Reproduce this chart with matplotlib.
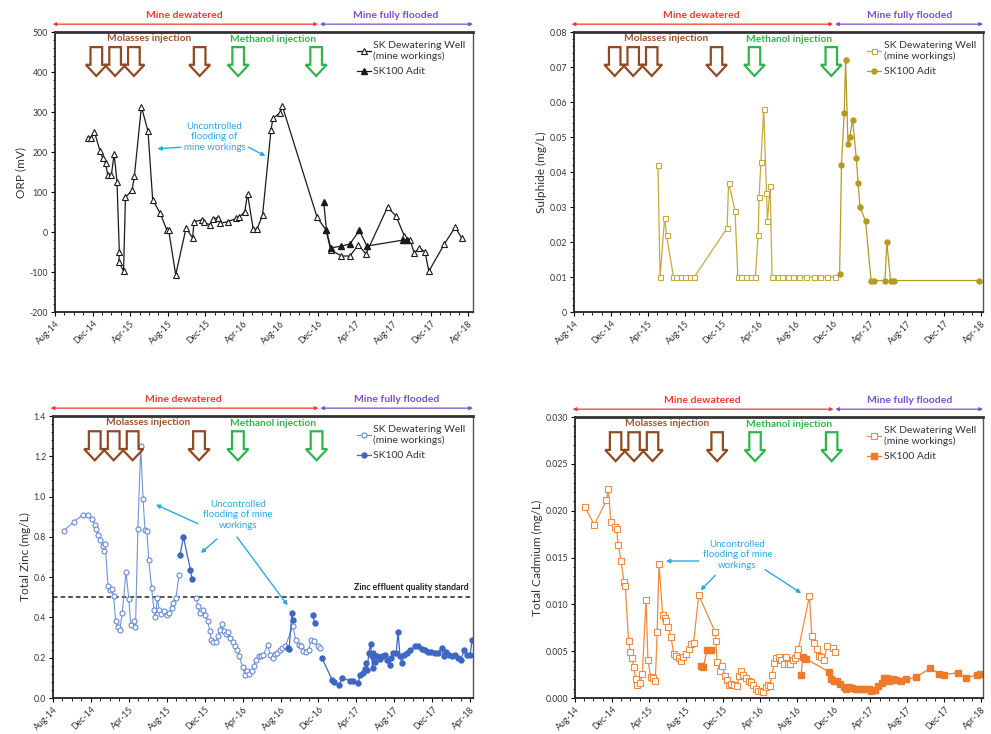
import numpy as np
import matplotlib
matplotlib.use("Agg")
import matplotlib.pyplot as plt
from matplotlib.transforms import blended_transform_factory
from matplotlib.patches import Polygon

plt.rcParams['font.family'] = ['Lato', 'DejaVu Sans']

# ---------------- x axis (months since 1 Aug 2014) ----------------
tick_labels = ['Aug-14', 'Dec-14', 'Apr-15', 'Aug-15', 'Dec-15', 'Apr-16', 'Aug-16',
               'Dec-16', 'Apr-17', 'Aug-17', 'Dec-17', 'Apr-18']
tick_months = [0, 4, 8, 12, 16, 20, 24, 28, 32, 36, 40, 44]
molasses_months = [4.4, 6.4, 8.4, 15.4]
methanol_months = [19.5, 27.8]
flooded_start = 28.0

# ---------------- ORP ----------------
orp_well_m = [3.55, 3.8, 4.2, 4.8, 5.1, 5.4, 5.6, 6.0, 6.3, 6.6, 6.85, 6.8, 7.3, 7.5, 8.2, 8.45,
              9.2, 9.9, 10.4, 11.2, 11.9, 12.1, 12.85, 13.95, 14.65, 14.8, 15.6, 15.9, 16.5,
              16.8, 17.4, 17.6, 18.4, 19.3, 19.6, 20.2, 20.5, 21.1, 21.5, 22.1, 23.0, 23.2,
              23.95, 24.2, 27.9, 28.85, 29.35, 30.5, 31.4, 32.3, 33.1, 35.4, 36.3, 37.2, 37.8,
              38.25, 38.8, 39.4, 39.8, 41.45, 42.6, 43.3]
orp_well_v = [236, 236, 250, 202, 184, 172, 143, 143, 195, 126, -51, -74, -98, 87, 104, 140,
              313, 252, 80, 47, 5, 5, -107, 10, -15, 26, 30, 24, 18, 33, 36, 22, 26, 34, 37,
              51, 95, 7, 7, 43, 256, 284, 298, 315, 37, 5, -45, -60, -60, -32, -55, 62, 40,
              -10, -20, -53, -39, -51, -98, -30, 12, -15]
orp_adit_m = [28.6, 28.9, 29.35, 30.5, 31.4, 32.4, 33.2, 37.1, 37.45]
orp_adit_v = [76, 5, -40, -35, -30, 4, -35, -20, -20]

# ---------------- Sulphide ----------------
sul_well_m = [9.07, 9.3, 9.8, 10.0, 10.75, 11.0, 11.6, 12.0, 12.5, 13.0, 16.55, 16.7, 17.4,
              17.7, 18.0, 18.55, 19.1, 19.6, 19.9, 20.0, 20.2, 20.5, 20.8, 20.9, 21.2, 21.4,
              22.0, 22.5, 23.1, 23.7, 24.3, 25.1, 25.9, 26.6, 27.3, 28.2]
sul_well_v = [0.042, 0.010, 0.027, 0.022, 0.010, 0.010, 0.010, 0.010, 0.010, 0.010, 0.024,
              0.037, 0.029, 0.010, 0.010, 0.010, 0.010, 0.010, 0.022, 0.033, 0.043, 0.058,
              0.034, 0.026, 0.036, 0.010, 0.010, 0.010, 0.010, 0.010, 0.010, 0.010, 0.010,
              0.010, 0.010, 0.010]
sul_adit_m = [28.7, 28.9, 29.2, 29.35, 29.6, 29.8, 30.1, 30.5, 30.7, 30.9, 31.5, 32.1, 32.45,
              33.6, 33.8, 34.2, 34.6, 43.8]
sul_adit_v = [0.011, 0.042, 0.057, 0.072, 0.048, 0.050, 0.055, 0.044, 0.037, 0.030, 0.026,
              0.009, 0.009, 0.009, 0.020, 0.009, 0.009, 0.009]

# ---------------- Zinc ----------------
zn_well_m = [1.13, 2.2, 3.2, 3.7, 4.1, 4.4, 4.55, 4.75, 5.0, 5.25, 5.4, 5.5, 5.8, 6.0, 6.2,
             6.4, 6.6, 6.85, 7.05, 7.3, 7.7, 8.0, 8.2, 8.5, 8.7, 8.95, 9.25, 9.5, 9.7, 9.9,
             10.1, 10.4, 10.65, 10.8, 11.0, 11.2, 11.4, 11.7, 12.0, 12.25, 12.5, 12.65, 12.95,
             13.3, 14.2, 15.1, 15.3, 15.5, 15.8, 16.0, 16.3, 16.55, 16.7, 16.9, 17.2, 17.4,
             17.6, 17.8, 18.0, 18.2, 18.5, 18.7, 18.95, 19.2, 19.4, 19.65, 20.0, 20.25, 20.45,
             20.7, 20.95, 21.2, 21.4, 21.7, 21.95, 22.2, 22.65, 22.9, 23.2, 23.4, 23.6, 23.9,
             24.2, 24.5, 25.3, 25.6, 25.9, 26.2, 26.4, 26.7, 26.95, 27.2, 27.5, 27.9, 28.2]
zn_well_v = [0.83, 0.876, 0.91, 0.91, 0.888, 0.86, 0.84, 0.81, 0.785, 0.757, 0.73, 0.765,
             0.557, 0.534, 0.54, 0.507, 0.38, 0.355, 0.34, 0.42, 0.625, 0.49, 0.364, 0.38,
             0.352, 0.838, 1.25, 0.987, 0.835, 0.83, 0.686, 0.545, 0.438, 0.40, 0.496, 0.438,
             0.416, 0.43, 0.41, 0.42, 0.446, 0.474, 0.496, 0.61, None, 0.496, 0.455, 0.42,
             0.438, 0.413, 0.38, 0.335, 0.286, 0.28, 0.28, 0.306, 0.339, 0.367, 0.335, 0.319,
             0.33, 0.297, 0.28, 0.26, 0.24, 0.207, 0.152, 0.116, 0.132, 0.119, 0.136, 0.16,
             0.19, 0.207, 0.21, 0.215, 0.264, 0.215, 0.20, 0.22, 0.226, 0.236, 0.248, 0.256,
             0.359, 0.286, 0.264, 0.256, 0.235, 0.231, 0.236, 0.286, 0.284, 0.256, 0.248]
zn_adit_m = [13.4, 13.75, 14.5, 14.65, 19.0, 24.75, 24.9, 25.2, 25.3, 26.5, 27.4, 27.6, 28.0,
             28.35, 29.45, 29.6, 30.2, 30.5, 31.3, 31.6, 32.2, 32.35, 32.7, 32.9, 33.05, 33.15,
             33.3, 33.5, 33.6, 33.7, 33.8, 34.0, 34.2, 34.45, 34.7, 35.0, 35.2, 35.5, 35.7,
             35.9, 36.2, 36.4, 36.6, 36.8, 37.0, 37.35, 37.7, 38.2, 38.5, 38.9, 39.2, 39.6,
             39.9, 40.3, 40.6, 41.0, 41.2, 41.5, 41.8, 42.1, 42.4, 42.75, 43.0, 43.4, 43.7,
             44.0, 44.2]
zn_adit_v = [0.71, 0.80, 0.636, 0.59, None, 0.248, 0.243, 0.42, 0.388, None, 0.413, 0.372,
             None, 0.20, 0.09, 0.08, 0.066, 0.10, 0.086, 0.083, 0.074, 0.116, 0.124, 0.144,
             0.174, 0.14, 0.223, 0.268, 0.207, 0.149, 0.223, 0.18, 0.207, 0.193, 0.207, 0.215,
             0.19, 0.165, 0.198, 0.223, 0.223, 0.33, 0.207, 0.174, 0.215, 0.226, 0.24, 0.256,
             0.256, 0.243, 0.24, 0.23, 0.23, 0.226, 0.223, 0.248, 0.207, 0.23, 0.215, 0.207,
             0.215, 0.198, 0.19, 0.24, 0.215, 0.215, 0.289]
zn_standard = 0.5

# ---------------- Cadmium ----------------
cd_well_m = [1.07, 2.1, 3.4, 3.6, 3.9, 4.3, 4.5, 4.7, 5.0, 5.3, 5.45, 5.8, 6.0, 6.2, 6.35,
             6.6, 6.75, 7.05, 7.3, 7.7, 7.9, 8.2, 8.4, 8.7, 8.9, 9.1, 9.5, 9.7, 9.9, 10.1,
             10.4, 10.7, 10.95, 11.25, 11.5, 11.75, 12.0, 12.3, 12.55, 12.85, 13.4, 15.2,
             15.25, 15.4, 15.7, 15.95, 16.2, 16.5, 16.65, 16.95, 17.25, 17.55, 17.8, 18.0,
             18.25, 18.5, 18.8, 19.1, 19.3, 19.6, 19.85, 20.1, 20.4, 20.65, 20.9, 21.1, 21.3,
             21.6, 21.8, 22.1, 22.3, 22.6, 22.9, 23.05, 23.3, 23.6, 23.85, 24.0, 24.2, 25.4,
             25.65, 25.9, 26.2, 26.45, 26.7, 27.0, 27.3, 27.9, 28.2]
cd_well_v = [0.0204, 0.0185, 0.0211, 0.0223, 0.0188, 0.0183, 0.0180, 0.0163, 0.0146, 0.0124,
             0.0120, 0.0061, 0.0049, 0.0043, 0.0033, 0.0020, 0.0014, 0.0016, 0.0026, 0.0105,
             0.0041, 0.0022, 0.0021, 0.0018, 0.0070, 0.0143, 0.0089, 0.0085, 0.0082, 0.0076,
             0.0065, 0.0047, 0.0045, 0.0043, 0.0040, 0.0044, 0.0047, 0.0052, 0.0058, 0.0059,
             0.0110, 0.0070, 0.0061, 0.0038, 0.0029, 0.0034, 0.0024, 0.0019, 0.0014, 0.0015,
             0.0014, 0.0013, 0.0023, 0.0029, 0.0025, 0.0021, 0.0018, 0.0017, 0.0014, 0.0010,
             0.0008, 0.0007, 0.0006, 0.0012, 0.0014, 0.0013, 0.0025, 0.0037, 0.0043, 0.0044,
             0.0041, 0.0036, 0.0044, 0.0036, 0.0036, 0.0041, 0.0043, 0.0046, 0.0052, 0.0109,
             0.0066, 0.0059, 0.0052, 0.0045, 0.0044, 0.0041, 0.0056, 0.0053, 0.0049]
cd_adit_m = [13.6, 13.9, 14.3, 14.7, 19.0, 24.5, 24.65, 25.0, 27.5, 27.7, 28.05, 28.4, 28.75,
             29.1, 29.4, 29.65, 30.0, 30.4, 30.7, 31.05, 31.4, 31.8, 32.1, 32.5, 32.85, 33.2,
             33.5, 33.75, 34.0, 34.4, 34.8, 35.3, 35.9, 36.9, 38.5, 39.4, 39.95, 41.5, 42.3,
             43.5, 43.9]
cd_adit_v = [0.0034, 0.0033, 0.0051, 0.0051, None, 0.0025, 0.0044, 0.0042, 0.0028, 0.0020,
             0.0018, 0.0018, 0.0015, 0.0012, 0.0010, 0.0012, 0.0011, 0.0010, 0.0010, 0.0010,
             0.0010, 0.0010, 0.0008, 0.0009, 0.0013, 0.0016, 0.0021, 0.0021, 0.0018, 0.0020,
             0.0019, 0.0018, 0.0020, 0.0022, 0.0032, 0.0026, 0.0025, 0.0027, 0.0021, 0.0025,
             0.0026]


def arr(v):
    return np.array([np.nan if x is None else x for x in v], dtype=float)


RED = '#F23A2E'
PURPLE = '#7A4FC9'
BROWN = '#8E4A22'
GREEN = '#2FB44A'
FLOOD = '#2AAAE2'
FS = 6.3

fig = plt.figure(figsize=(9.91, 7.34), dpi=100)
fig.patch.set_facecolor('white')

ax1 = fig.add_axes([0.0555, 0.5749, 0.4218, 0.3815])
ax2 = fig.add_axes([0.5792, 0.5749, 0.4128, 0.3815])
ax3 = fig.add_axes([0.0535, 0.0490, 0.4238, 0.3842])
ax4 = fig.add_axes([0.5802, 0.0490, 0.4118, 0.3828])


def common(ax, xmax, ylim, yticks, yfmt, ylabel):
    ax.set_xlim(0, xmax)
    ax.set_ylim(*ylim)
    ax.set_xticks(tick_months)
    ax.set_xticklabels(tick_labels, rotation=45, ha='right', rotation_mode='anchor',
                       fontsize=FS, color='#333333')
    ax.set_xticks(np.arange(0, xmax, 1), minor=True)
    ax.set_yticks(yticks)
    ax.set_yticklabels([yfmt(t) for t in yticks], fontsize=FS, color='#333333')
    ax.yaxis.set_minor_locator(matplotlib.ticker.AutoMinorLocator(5))
    ax.tick_params(which='major', length=3, width=0.8, direction='out', pad=2)
    ax.tick_params(which='minor', length=1.8, width=0.6, direction='out')
    for s in ['left', 'bottom']:
        ax.spines[s].set_color('#222222')
        ax.spines[s].set_linewidth(1.3)
    ax.spines['top'].set_color('#333333')
    ax.spines['top'].set_linewidth(2.0)
    ax.spines['right'].set_color('#555555')
    ax.spines['right'].set_linewidth(1.0)
    ax.set_ylabel(ylabel, fontsize=8.6, color='#333333', labelpad=2)

    tr = blended_transform_factory(ax.transData, ax.transAxes)
    # phases
    ax.annotate('', xy=(flooded_start, 1.028), xytext=(-0.25, 1.028), xycoords=tr,
                textcoords=tr, annotation_clip=False,
                arrowprops=dict(arrowstyle='<|-|>', color=RED, lw=0.9, mutation_scale=5,
                                shrinkA=0, shrinkB=0))
    ax.annotate('', xy=(xmax, 1.028), xytext=(flooded_start + 0.2, 1.028), xycoords=tr,
                textcoords=tr, annotation_clip=False,
                arrowprops=dict(arrowstyle='<|-|>', color=PURPLE, lw=0.9, mutation_scale=5,
                                shrinkA=0, shrinkB=0))
    ax.text(13.8, 1.06, 'Mine dewatered', transform=tr, ha='center', va='center',
            fontsize=7.5, color=RED, fontweight='bold', clip_on=False)
    ax.text(36.3, 1.06, 'Mine fully flooded', transform=tr, ha='center', va='center',
            fontsize=7.5, color=PURPLE, fontweight='bold', clip_on=False)
    # injections
    ax.text(10.0, 0.978, 'Molasses injection', transform=tr, ha='center', va='center',
            fontsize=7.3, color='#9A5430', fontweight='bold')
    ax.text(23.2, 0.975, 'Methanol injection', transform=tr, ha='center', va='center',
            fontsize=7.3, color=GREEN, fontweight='bold')
    sw, hw, yt, yh, yb = 0.62, 1.12, 0.946, 0.883, 0.843
    for months, col in [(molasses_months, BROWN), (methanol_months, GREEN)]:
        for c in months:
            pts = [(c - sw, yt), (c + sw, yt), (c + sw, yh), (c + hw, yh), (c, yb),
                   (c - hw, yh), (c - sw, yh)]
            ax.add_patch(Polygon(pts, closed=True, transform=tr, facecolor='white',
                                 edgecolor=col, lw=1.6, joinstyle='miter', zorder=5))
    return tr


def legend(ax, h1, h2, anchor):
    lg = ax.legend([h1, h2], ['SK Dewatering Well\n(mine workings)', 'SK100 Adit'],
                   loc='upper right', bbox_to_anchor=anchor, frameon=False,
                   fontsize=7.5, handlelength=1.4, handletextpad=0.2,
                   labelspacing=0.6, borderaxespad=0.3)
    for t in lg.get_texts():
        t.set_color('#333333')


def flood_note(ax, xy_text, label, arrows):
    ax.text(xy_text[0], xy_text[1], label, ha='center', va='center', fontsize=7.0,
            color=FLOOD, linespacing=1.2)
    for (x0, y0), (x1, y1) in arrows:
        ax.annotate('', xy=(x1, y1), xytext=(x0, y0),
                    arrowprops=dict(arrowstyle='-|>', color=FLOOD, lw=1.0,
                                    mutation_scale=6, shrinkA=0, shrinkB=0))


# ---- Panel 1: ORP ----
common(ax1, 44.5, (-200, 500), list(range(-200, 501, 100)), lambda t: f'{t:d}', 'ORP (mV)')
h1, = ax1.plot(orp_well_m, arr(orp_well_v), color='#1a1a1a', lw=0.9, marker='^', ms=4.6,
               mfc='white', mec='#1a1a1a', mew=0.8)
h2, = ax1.plot(orp_adit_m, arr(orp_adit_v), color='#1a1a1a', lw=0.9, marker='^', ms=4.6,
               mfc='#1a1a1a', mec='#1a1a1a')
legend(ax1, h1, h2, (1.0, 0.995))
flood_note(ax1, (17.0, 238), 'Uncontrolled\nflooding of\nmine workings',
           [((13.4, 212), (10.9, 208)), ((20.6, 212), (22.4, 190))])

# ---- Panel 2: Sulphide ----
common(ax2, 44.2, (0, 0.08), [0, 0.01, 0.02, 0.03, 0.04, 0.05, 0.06, 0.07, 0.08],
       lambda t: '0' if t == 0 else f'{t:.2f}', 'Sulphide (mg/L)')
h1, = ax2.plot(sul_well_m, arr(sul_well_v), color='#C9A93A', lw=0.9, marker='s', ms=3.6,
               mfc='white', mec='#C9A93A', mew=0.8)
h2, = ax2.plot(sul_adit_m, arr(sul_adit_v), color='#B59A22', lw=0.9, marker='o', ms=3.6,
               mfc='#B59A22', mec='#B59A22')
legend(ax2, h1, h2, (1.0, 0.995))

# ---- Panel 3: Zinc ----
common(ax3, 44.3, (0, 1.4), [0, 0.2, 0.4, 0.6, 0.8, 1.0, 1.2, 1.4],
       lambda t: f'{t:.1f}', 'Total Zinc (mg/L)')
ax3.axhline(zn_standard, color='#222222', lw=1.1, ls=(0, (3, 2)))
ax3.text(43.8, zn_standard + 0.025, 'Zinc effluent quality standard', ha='right',
         va='bottom', fontsize=6.3, color='#222222', fontweight='bold')
h1, = ax3.plot(zn_well_m, arr(zn_well_v), color='#7293D8', lw=0.8, marker='o', ms=3.6,
               mfc='white', mec='#6688D2', mew=0.8)
h2, = ax3.plot(zn_adit_m, arr(zn_adit_v), color='#3D67C2', lw=0.9, marker='o', ms=3.6,
               mfc='#3D67C2', mec='#3D67C2')
legend(ax3, h1, h2, (1.0, 0.995))
flood_note(ax3, (19.5, 0.91), 'Uncontrolled\nflooding of mine\nworkings',
           [((15.3, 0.865), (10.85, 0.96)), ((17.3, 0.79), (15.6, 0.72)),
            ((19.4, 0.80), (24.75, 0.46))])

# ---- Panel 4: Cadmium ----
common(ax4, 44.2, (0, 0.030), [0, 0.005, 0.010, 0.015, 0.020, 0.025, 0.030],
       lambda t: f'{t:.3f}', 'Total Cadmium (mg/L)')
h1, = ax4.plot(cd_well_m, arr(cd_well_v), color='#F08A3C', lw=0.9, marker='s', ms=3.8,
               mfc='white', mec='#F08A3C', mew=0.8)
h2, = ax4.plot(cd_adit_m, arr(cd_adit_v), color='#EE7A2A', lw=0.9, marker='s', ms=3.8,
               mfc='#EE7A2A', mec='#EE7A2A')
legend(ax4, h1, h2, (1.0, 0.995))
flood_note(ax4, (17.6, 0.0153), 'Uncontrolled\nflooding of mine\nworkings',
           [((13.4, 0.01463), (9.85, 0.01463)), ((15.2, 0.0131), (13.6, 0.0115)),
            ((20.6, 0.0137), (24.5, 0.0112))])

fig.savefig('out.png', dpi=100)
